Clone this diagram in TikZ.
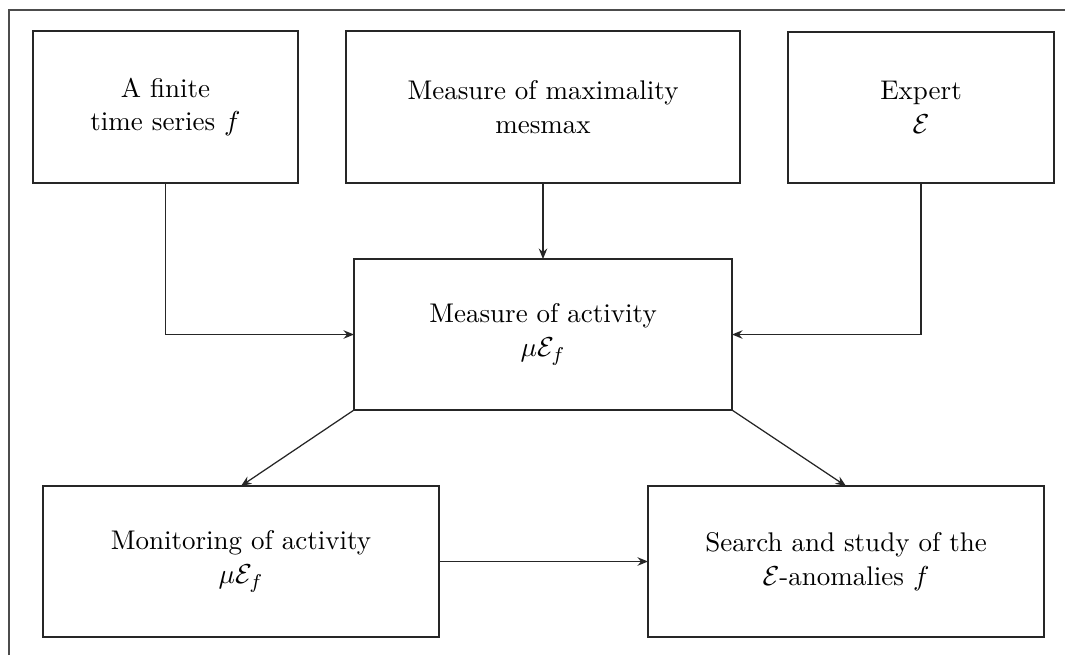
\documentclass[tikz,border=0pt]{standalone}
\usetikzlibrary{arrows.meta}
\begin{document}
\begin{tikzpicture}[x=0.4pt,y=-0.4pt,
  box/.style={draw=black!85,line width=0.5pt,inner sep=0pt,outer sep=0pt,align=center,font=\fontsize{10.8}{13.5}\selectfont},
  conn/.style={draw=black!85,line width=0.5pt,-{Stealth[length=4.2pt,width=3.4pt,inset=1.4pt]}}]
\useasboundingbox (0,0) rectangle (1065,655);
\draw[black!70,line width=0.6pt] (9,655) -- (9,10) -- (1065,10);
\node[box,minimum width=106pt,minimum height=60.8pt] (A) at (165.5,107) {A finite\\time series $f$};
\node[box,minimum width=157.6pt,minimum height=60.8pt] (B) at (543,107) {Measure of maximality\\mesmax};
\node[box,minimum width=106.4pt,minimum height=60.4pt] (C) at (921,107.5) {Expert\\$\mathcal{E}$};
\node[box,minimum width=151.2pt,minimum height=60.4pt] (D) at (543,334.5) {Measure of activity\\$\mu\mathcal{E}_f$};
\node[box,minimum width=158.4pt,minimum height=60.4pt] (E) at (241,561.5) {Monitoring of activity\\$\mu\mathcal{E}_f$};
\node[box,minimum width=158.4pt,minimum height=60.4pt] (F) at (846,561.5) {Search and study of the\\$\mathcal{E}$-anomalies $f$};
\draw[conn] (A.south) |- (D.west);
\draw[conn] (B.south) -- (D.north);
\draw[conn] (C.south) |- (D.east);
\draw[conn] (D.south west) -- (E.north);
\draw[conn] (D.south east) -- (F.north);
\draw[conn] (E.east) -- (F.west);
\end{tikzpicture}
\end{document}
